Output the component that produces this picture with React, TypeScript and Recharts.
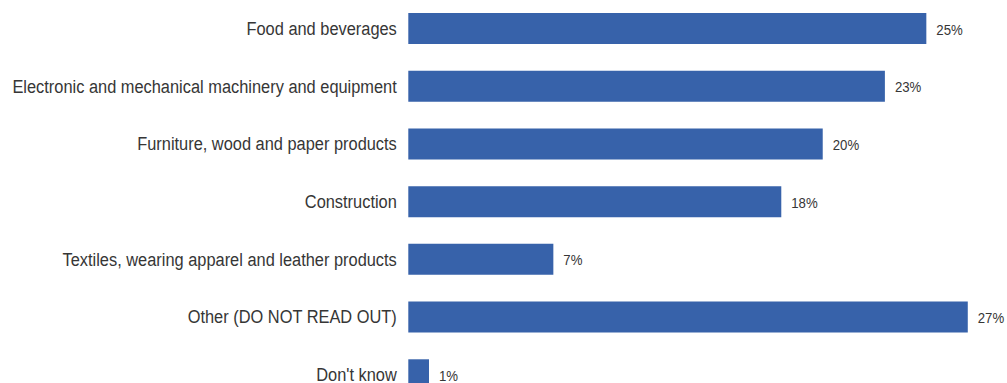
import React from "react";
import { BarChart, Bar, XAxis, YAxis, LabelList } from "recharts";

const categories = [
  "Food and beverages",
  "Electronic and mechanical machinery and equipment",
  "Furniture, wood and paper products",
  "Construction",
  "Textiles, wearing apparel and leather products",
  "Other (DO NOT READ OUT)",
  "Don't know",
];
const values = [25, 23, 20, 18, 7, 27, 1];

const data = categories.map((name, i) => ({ name, value: values[i] }));

const FONT = "'Liberation Sans', Arial, sans-serif";
const TEXT_COLOR = "#363636";
const BAR_COLOR = "#3762aa";

const CategoryTick = (props: any) => {
  const { x, y, payload } = props;
  return (
    <g transform={`translate(${x - 11.5},${y + 6}) scale(0.863,1)`}>
      <text
        x={0}
        y={0}
        textAnchor="end"
        fontFamily={FONT}
        fontSize={19}
        fill={TEXT_COLOR}
      >
        {payload.value}
      </text>
    </g>
  );
};

const ValueLabel = (props: any) => {
  const { x, y, width, height, value } = props;
  const lx = Number(x) + Number(width) + 10;
  const ly = Number(y) + Number(height) / 2 + 6;
  return (
    <g transform={`translate(${lx},${ly}) scale(0.88,1)`}>
      <text x={0} y={0} textAnchor="start" fontFamily={FONT} fontSize={15} fill={TEXT_COLOR}>
        {`${value}%`}
      </text>
    </g>
  );
};

export default function App() {
  return (
    <div style={{ position: "absolute", left: 0, top: 0, background: "#fff" }}>
      <BarChart
        width={1007}
        height={404}
        data={data}
        layout="vertical"
        margin={{ top: 0, right: 18.5, bottom: 0, left: 0 }}
        barCategoryGap={0}
      >
        <XAxis type="number" domain={[0, 28]} hide />
        <YAxis
          type="category"
          dataKey="name"
          width={408.3}
          tickLine={false}
          axisLine={false}
          tickSize={0}
          tickMargin={0}
          interval={0}
          tick={<CategoryTick />}
        />
        <Bar dataKey="value" fill={BAR_COLOR} barSize={31} isAnimationActive={false}>
          <LabelList dataKey="value" content={<ValueLabel />} />
        </Bar>
      </BarChart>
    </div>
  );
}
